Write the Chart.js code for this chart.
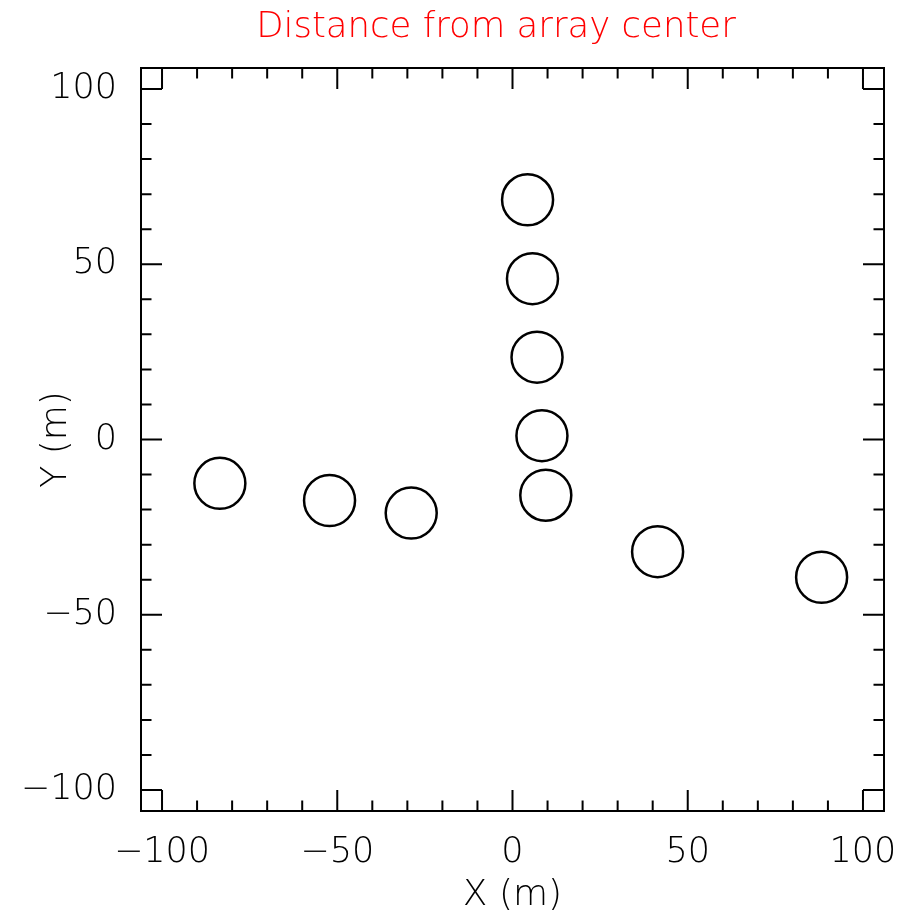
<!DOCTYPE html>
<html>
<head>
<meta charset="utf-8">
<script src="https://cdn.jsdelivr.net/npm/chart.js@4/dist/chart.umd.min.js"></script>
<style>
  html, body { margin: 0; padding: 0; background: #fff; }
  canvas { display: block; }
</style>
</head>
<body>
<canvas id="c" width="912" height="917"></canvas>
<script>
// ---- data ----
const stationX = [4.3, 5.7, 7.0, 8.4, 9.5, -83.5, -52.2, -28.9, 41.4, 88.2];
const stationY = [68.4, 45.9, 23.5, 1.1, -15.9, -12.5, -17.4, -21.0, -32.0, -39.3];
const majorTicks = [-100, -50, 0, 50, 100];
const minorTicks = [-100, -90, -80, -70, -60, -50, -40, -30, -20, -10, 0, 10, 20, 30, 40, 50, 60, 70, 80, 90, 100];
const axisMin = -106, axisMax = 106;
const titleText = 'Distance from array center';
const xTitle = 'X (m)';
const yTitle = 'Y (m)';

const FONT = '"DejaVu Sans", "Liberation Sans", sans-serif';
const WEIGHT = 200;
const fmt = v => String(v).replace('-', '\u2212');

const framePlugin = {
  id: 'frameTicks',
  afterDraw(chart) {
    const ctx = chart.ctx;
    const a = chart.chartArea;
    const xs = chart.scales.x, ys = chart.scales.y;
    ctx.save();
    ctx.strokeStyle = '#000';
    ctx.lineWidth = 2;
    ctx.strokeRect(a.left, a.top, a.right - a.left, a.bottom - a.top);
    ctx.beginPath();
    minorTicks.forEach(v => {
      const len = (v % 50 === 0) ? 21 : 10.5;
      const px = xs.getPixelForValue(v);
      ctx.moveTo(px, a.bottom); ctx.lineTo(px, a.bottom - len);
      ctx.moveTo(px, a.top); ctx.lineTo(px, a.top + len);
      const py = ys.getPixelForValue(v);
      ctx.moveTo(a.left, py); ctx.lineTo(a.left + len, py);
      ctx.moveTo(a.right, py); ctx.lineTo(a.right - len, py);
    });
    ctx.stroke();
    // title
    ctx.fillStyle = '#ff0000';
    ctx.font = WEIGHT + ' 35.5px ' + FONT;
    ctx.textAlign = 'center';
    ctx.textBaseline = 'alphabetic';
    ctx.fillText(titleText, 496, 37);
    ctx.restore();
  }
};

new Chart(document.getElementById('c'), {
  type: 'scatter',
  data: {
    datasets: [{
      data: stationX.map((x, i) => ({ x: x, y: stationY[i] })),
      pointStyle: 'circle',
      pointRadius: 25.5,
      pointHoverRadius: 25.5,
      borderWidth: 2.5,
      borderColor: '#000',
      backgroundColor: 'rgba(0,0,0,0)'
    }]
  },
  options: {
    responsive: false,
    animation: false,
    events: [],
    layout: { padding: { left: 0, right: 28, top: 68, bottom: 0 } },
    plugins: { legend: { display: false }, tooltip: { enabled: false }, title: { display: false } },
    scales: {
      x: {
        type: 'linear', position: 'bottom', min: axisMin, max: axisMax,
        afterBuildTicks: s => { s.ticks = majorTicks.map(v => ({ value: v })); },
        afterFit: s => { s.height = 106; s.paddingLeft = 0; s.paddingRight = 0; },
        grid: { display: false, drawTicks: false },
        border: { display: false },
        ticks: { callback: fmt, color: '#000', padding: 21, maxRotation: 0, autoSkip: false,
                 font: { family: FONT, size: 35, weight: WEIGHT } },
        title: { display: true, text: xTitle, color: '#000', padding: { top: 0, bottom: 0 },
                 font: { family: FONT, size: 36, weight: WEIGHT } }
      },
      y: {
        type: 'linear', position: 'left', min: axisMin, max: axisMax,
        afterBuildTicks: s => { s.ticks = majorTicks.map(v => ({ value: v })); },
        afterFit: s => { s.width = 141; s.paddingTop = 0; s.paddingBottom = 0; },
        grid: { display: false, drawTicks: false },
        border: { display: false },
        ticks: { callback: fmt, color: '#000', padding: 24, autoSkip: false,
                 font: { family: FONT, size: 35, weight: WEIGHT } },
        title: { display: true, text: yTitle, color: '#000', padding: { top: 35, bottom: 0 },
                 font: { family: FONT, size: 36, weight: WEIGHT } }
      }
    }
  },
  plugins: [framePlugin]
});
</script>
</body>
</html>
